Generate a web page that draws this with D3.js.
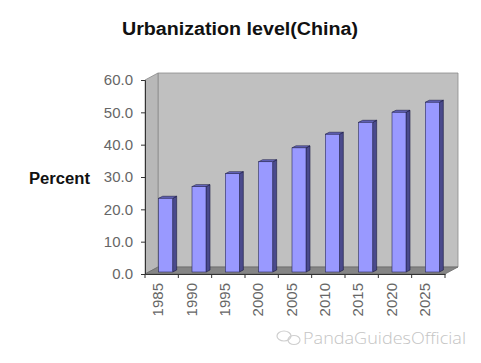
<!DOCTYPE html>
<html>
<head>
<meta charset="utf-8">
<script src="https://cdn.jsdelivr.net/npm/d3@7"></script>
<style>
  html, body { margin: 0; padding: 0; background: #ffffff; }
  svg { display: block; font-family: "Liberation Sans", Arial, sans-serif; }
</style>
</head>
<body>
<svg id="chart" width="481" height="363"></svg>
<script>
const categories = ["1985", "1990", "1995", "2000", "2005", "2010", "2015", "2020", "2025"];
const values = [22.8, 26.4, 30.4, 34.1, 38.4, 42.6, 46.3, 49.4, 52.5];
const yTicks = [0, 10, 20, 30, 40, 50, 60];
const titleText = "Urbanization level(China)";
const yLabel = "Percent";
const watermark = "PandaGuidesOfficial";

const svg = d3.select("#chart");

// plot geometry
const x0 = 145, x1 = 445, yBot = 274, yTop = 80;
const depthX = 13, depthY = 7;

const x = d3.scaleBand().domain(categories).range([x0, x1]).padding(0);
const y = d3.scaleLinear().domain([0, 60]).range([yBot, yTop]);

// title
svg.append("text")
  .attr("x", 240).attr("y", 35)
  .attr("text-anchor", "middle")
  .attr("font-size", 18).attr("font-weight", "bold").attr("fill", "#111")
  .attr("textLength", 236).attr("lengthAdjust", "spacingAndGlyphs")
  .text(titleText);

// walls
const wallFill = "#c0c0c0", wallStroke = "#8a8a8a";
svg.append("polygon")
  .attr("points", [[x0 + depthX, yTop - depthY], [x1 + depthX, yTop - depthY], [x1 + depthX, yBot - depthY], [x0 + depthX, yBot - depthY]].join(" "))
  .attr("fill", wallFill).attr("stroke", wallStroke).attr("stroke-width", 0.8);
svg.append("polygon")
  .attr("points", [[x0, yTop], [x0 + depthX, yTop - depthY], [x0 + depthX, yBot - depthY], [x0, yBot]].join(" "))
  .attr("fill", "#b8b8b8").attr("stroke", wallStroke).attr("stroke-width", 0.8);
svg.append("polygon")
  .attr("points", [[x0, yBot], [x1, yBot], [x1 + depthX, yBot - depthY], [x0 + depthX, yBot - depthY]].join(" "))
  .attr("fill", "#858585").attr("stroke", "#6a6a6a").attr("stroke-width", 0.8);

// y axis
const yAxis = svg.append("g").attr("transform", `translate(${x0},0)`)
  .call(d3.axisLeft(y).tickValues(yTicks).tickSize(4).tickPadding(8).tickFormat(d3.format(".1f")));
yAxis.select(".domain").attr("stroke", "#333").attr("stroke-width", 1);
yAxis.selectAll(".tick line").attr("stroke", "#333");
yAxis.selectAll(".tick text").attr("font-size", 15).attr("fill", "#666")
  .attr("font-family", "'Liberation Sans', Arial, sans-serif");

// x axis
const xAxis = svg.append("g").attr("transform", `translate(0,${yBot})`)
  .call(d3.axisBottom(x).tickSize(0).tickFormat(""));
xAxis.select(".domain").attr("stroke", "#333");
xAxis.selectAll(".tick").remove();
svg.append("g").selectAll("line")
  .data(categories.concat(["_end"]))
  .join("line")
  .attr("x1", (d, i) => x0 + i * x.step()).attr("x2", (d, i) => x0 + i * x.step())
  .attr("y1", yBot).attr("y2", yBot + 4)
  .attr("stroke", "#333");
svg.append("g").selectAll("text")
  .data(categories)
  .join("text")
  .attr("transform", d => `translate(${x(d) + 13},${yBot + 9}) rotate(-90)`)
  .attr("text-anchor", "end")
  .attr("dy", "0.35em")
  .attr("font-size", 15).attr("fill", "#666")
  .text(d => d);

// bars
const barW = 14, sideX = 4, sideY = 2;
const shiftX = 4, shiftY = 2;
const bars = svg.append("g").selectAll("g")
  .data(categories.map((c, i) => ({ c, v: values[i] })))
  .join("g");
bars.each(function (d) {
  const g = d3.select(this);
  const L = x(d.c) + (x.bandwidth() - barW) / 2 + shiftX;
  const R = L + barW;
  const b = y(0) - shiftY;
  const t = y(d.v) - shiftY;
  g.append("polygon")
    .attr("points", [[R, t], [R + sideX, t - sideY], [R + sideX, b - sideY], [R, b]].join(" "))
    .attr("fill", "#4a4a8c").attr("stroke", "#1a1a40").attr("stroke-width", 0.6);
  g.append("polygon")
    .attr("points", [[L, t], [R, t], [R + sideX, t - sideY], [L + sideX, t - sideY]].join(" "))
    .attr("fill", "#6a6ac4").attr("stroke", "#1a1a40").attr("stroke-width", 0.6);
  g.append("rect")
    .attr("x", L).attr("y", t).attr("width", barW).attr("height", b - t)
    .attr("fill", "#9999ff").attr("stroke", "#2a2a5a").attr("stroke-width", 0.6);
});

// y label
svg.append("text")
  .attr("x", 29).attr("y", 184)
  .attr("font-size", 16).attr("font-weight", "bold").attr("fill", "#111")
  .attr("textLength", 61).attr("lengthAdjust", "spacingAndGlyphs")
  .text(yLabel);

// watermark
const wm = svg.append("g");
wm.append("ellipse").attr("cx", 284).attr("cy", 336).attr("rx", 7).attr("ry", 5)
  .attr("fill", "none").attr("stroke", "#cfcfcf").attr("stroke-width", 1.2);
wm.append("ellipse").attr("cx", 294).attr("cy", 340).attr("rx", 6).attr("ry", 4.5)
  .attr("fill", "none").attr("stroke", "#cfcfcf").attr("stroke-width", 1.2);
wm.append("text")
  .attr("x", 303).attr("y", 344)
  .attr("font-size", 17).attr("font-weight", 300).attr("fill", "#c4c4c4")
  .attr("font-family", "'Open Sans', 'DejaVu Sans', sans-serif")
  .attr("textLength", 163).attr("lengthAdjust", "spacingAndGlyphs")
  .text(watermark);
</script>
</body>
</html>
